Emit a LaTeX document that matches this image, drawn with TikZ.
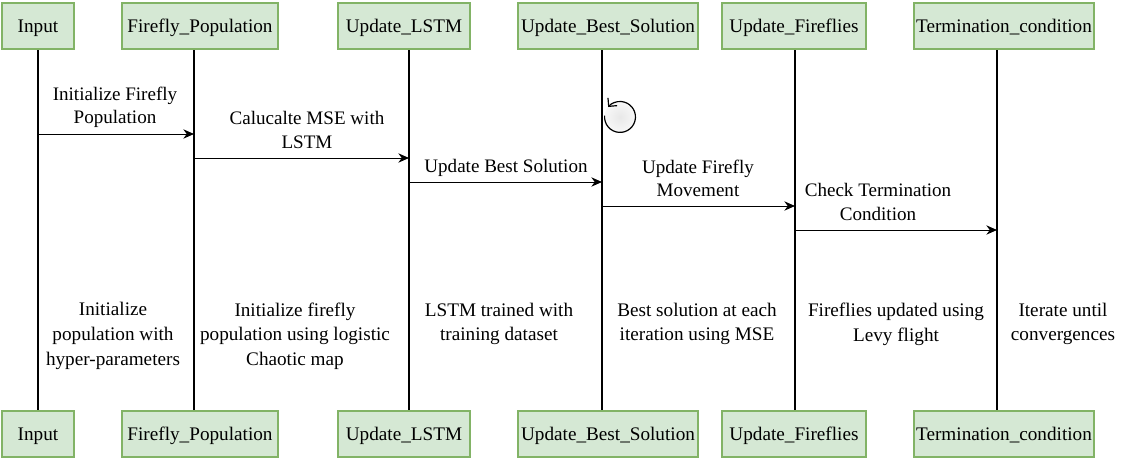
\documentclass[tikz,border=0pt]{standalone}
\usepackage{fontspec}
\setmainfont{Liberation Serif}
\usepackage{tikz}
\usetikzlibrary{arrows.meta}
\definecolor{boxfill}{HTML}{D5E8D4}
\definecolor{boxline}{HTML}{82B366}
\tikzset{
  actor/.style={rectangle,draw=boxline,fill=boxfill,line width=2pt,minimum height=34.5pt,inner sep=0pt,text height=9.4pt,text depth=0pt,font=\fontsize{14.4}{15}\selectfont},
  lifeline/.style={line width=1.6pt},
  msg/.style={line width=.75pt,-{Stealth[length=8pt,width=7pt]}},
  lbl/.style={align=center,inner sep=0pt,font=\fontsize{14.3}{17.3}\selectfont},
  note/.style={align=center,inner sep=0pt,font=\fontsize{14.4}{18.5}\selectfont}
}
\begin{document}
\begin{tikzpicture}
  [x=.75pt,y=-.75pt]
  \useasboundingbox (0,0) rectangle (1142,468);

  % lifelines
  \coordinate (t1) at (38,50);   \coordinate (b1) at (38,410);
  \coordinate (t2) at (194,50);  \coordinate (b2) at (194,410);
  \coordinate (t3) at (409,50);  \coordinate (b3) at (409,410);
  \coordinate (t4) at (602,50);  \coordinate (b4) at (602,410);
  \coordinate (t5) at (795,50);  \coordinate (b5) at (795,410);
  \coordinate (t6) at (997,50);  \coordinate (b6) at (997,410);

  \foreach \from/\to in {t1/b1,t2/b2,t3/b3,t4/b4,t5/b5,t6/b6}
    \draw[lifeline] (\from) -- (\to);

  % boxes, top and bottom
  \foreach \nm/\cx/\boxw/\txt in {input/38/72/Input,
      pop/200/156/Firefly\_Population,
      lstm/404/132/Update\_LSTM,
      best/608/180/Update\_Best\_Solution,
      fire/794/144/Update\_Fireflies,
      term/1004/180/Termination\_condition}{
    \node[actor,minimum width=.75*\boxw pt] (\nm top) at (\cx,26) {\txt};
    \node[actor,minimum width=.75*\boxw pt] (\nm bot) at (\cx,434) {\txt};
  }

  % messages
  \coordinate (m1a) at (38,134);   \coordinate (m1b) at (194,134);
  \coordinate (m2a) at (194,158);  \coordinate (m2b) at (409,158);
  \coordinate (m3a) at (409,182);  \coordinate (m3b) at (602,182);
  \coordinate (m4a) at (602,206);  \coordinate (m4b) at (795,206);
  \coordinate (m5a) at (795,230);  \coordinate (m5b) at (997,230);

  \foreach \from/\to in {m1a/m1b,m2a/m2b,m3a/m3b,m4a/m4b,m5a/m5b}
    \draw[msg] (\from) -- (\to);

  \node[lbl] (l1) at (115,107) {Initialize Firefly\\Population};
  \node[lbl] (l2) at (307,130) {Calucalte MSE with\\LSTM};
  \node[lbl] (l3) at (506,168) {Update Best Solution};
  \node[lbl] (l4) at (698,178) {Update Firefly\\Movement};
  \node[lbl] (l5) at (878,202) {Check Termination\\Condition};

  % self loop on the best solution
  \shade[inner color=black!9,outer color=black!3] (620,117) circle (11.6pt);
  \draw[line width=.9pt,-{Straight Barb[length=4.5pt,width=9pt]}] (604.6,115.6) arc[start angle=175,end angle=500,radius=11.6pt];

  \node[note] (n1) at (113,336) {Initialize\\population with\\hyper-parameters};
  \node[note] (n2) at (295,336) {Initialize firefly\\population using logistic\\Chaotic map};
  \node[note] (n3) at (499,324) {LSTM trained with\\training dataset};
  \node[note] (n4) at (697,324) {Best solution at each\\iteration using MSE};
  \node[note] (n5) at (896,324) {Fireflies updated using\\Levy flight};
  \node[note] (n6) at (1063,324) {Iterate until\\convergences};
\end{tikzpicture}
\end{document}
